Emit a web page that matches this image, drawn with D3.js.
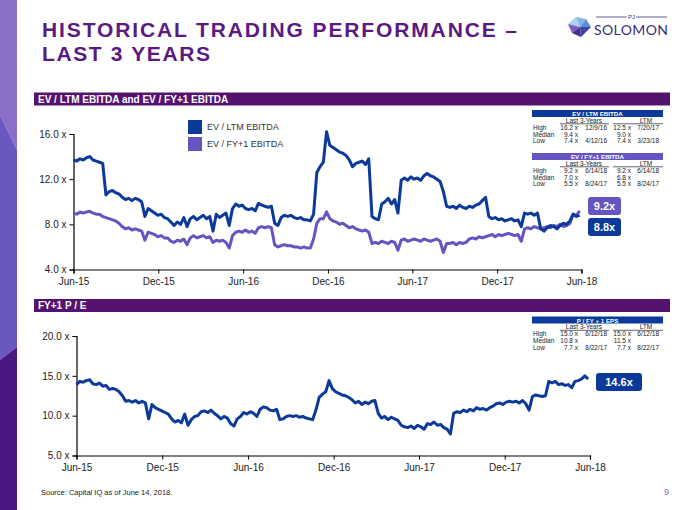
<!DOCTYPE html>
<html><head><meta charset="utf-8">
<script src="https://cdn.jsdelivr.net/npm/d3@7"></script>
<style>
html,body{margin:0;padding:0;background:#fff;}
svg{display:block;font-family:"Liberation Sans",Arial,sans-serif;}
</style></head>
<body>
<script>
// ---------- DATA ----------
const startDate = new Date(2015, 5, 14);
const endDate = new Date(2018, 5, 14);
const tickDates = ["Jun-15","Dec-15","Jun-16","Dec-16","Jun-17","Dec-17","Jun-18"];

// weekly multiples, week 0 = Jun 14, 2015
const evLtmEbitda = [
 13.7,13.6,13.8,13.7,13.9,14.0,13.7,13.6,13.5,13.4,
 10.6,10.9,11.0,10.8,10.7,
 10.4,10.2,10.3,10.1,10.3,10.2,10.0,
 8.7,9.4,9.2,
 9.0,8.8,8.9,8.6,8.5,
 8.2,7.9,8.2,8.0,8.6,
 7.8,
 8.5,8.7,8.4,8.6,8.8,8.5,8.7,
 7.4,
 8.9,8.6,8.8,9.0,
 7.9,
 9.4,
 9.8,9.6,9.7,9.4,9.3,
 9.4,9.2,9.85,
 9.7,9.6,9.5,9.6,
 8.1,7.9,
 8.6,8.8,8.7,8.8,
 8.6,8.5,8.6,8.4,8.4,8.3,
 8.9,12.6,13.1,13.5,16.2,
 15.0,14.8,14.6,14.4,14.3,
 14.1,13.7,13.1,13.4,13.5,13.6,13.3,13.8,
 8.7,8.5,8.4,
 9.8,10.0,10.3,9.8,10.2,
 9.0,
 11.9,12.1,11.9,12.2,12.0,12.1,11.9,12.3,12.5,
 12.3,12.2,12.0,11.8,
 10.9,9.6,
 9.5,9.6,9.4,9.7,9.5,9.4,9.6,9.5,9.7,9.8,
 10.1,10.4,
 8.7,
 8.5,8.6,8.4,8.5,8.3,8.4,8.5,8.3,8.4,
 7.8,9.0,
 8.9,9.0,8.8,9.0,
 7.6,7.4,
 7.7,7.9,7.8,7.6,7.9,
 8.1,8.0,8.3,
 8.9,8.7,8.8
];
const evFy1Ebitda = [
 9.0,8.9,9.1,9.0,9.1,9.15,9.0,8.9,8.9,8.7,
 8.6,8.5,8.4,8.3,8.1,
 7.8,7.6,7.7,7.5,7.6,7.5,7.4,
 6.6,7.3,7.2,
 7.1,6.9,7.0,6.8,6.8,
 6.5,6.4,6.6,6.5,6.7,
 6.2,
 6.8,7.0,6.8,6.9,7.0,6.8,6.9,
 6.4,
 6.6,6.5,6.6,6.4,
 5.9,
 7.0,
 7.3,7.4,7.3,7.5,7.3,7.4,7.2,7.7,
 7.8,7.7,7.8,7.7,
 6.2,6.0,
 6.1,6.2,6.1,6.1,6.0,6.0,5.9,6.0,5.9,5.9,
 6.7,8.1,8.5,8.5,9.1,
 8.5,8.3,8.2,8.0,8.1,
 7.9,7.7,7.8,7.6,7.5,7.4,7.5,7.3,
 6.3,6.4,6.3,6.5,6.4,6.3,6.5,6.4,
 5.7,
 6.6,6.7,6.5,6.6,6.7,6.6,6.5,6.7,6.6,6.5,6.6,6.7,6.5,
 5.5,6.3,
 6.3,6.4,6.2,6.4,6.3,6.4,
 6.7,6.8,6.7,6.9,6.8,6.9,
 7.0,7.1,6.9,7.1,7.0,7.1,7.2,7.1,7.0,7.1,
 6.5,7.6,
 7.7,7.6,7.8,7.7,7.6,7.7,7.8,7.7,7.9,
 7.8,8.0,7.8,7.9,8.1,
 8.9,8.8,9.2
];
const fy1PE = [
 13.9,14.3,14.2,14.4,14.5,
 14.0,13.9,14.1,13.7,13.8,13.3,
 13.4,13.3,13.0,
 12.5,11.8,
 11.9,11.7,11.9,11.6,11.8,
 11.6,9.6,11.4,11.0,
 10.8,10.6,10.4,10.2,
 9.6,9.2,9.4,9.1,
 10.2,8.8,
 9.5,9.9,10.0,
 10.5,10.6,10.4,10.7,10.3,
 10.0,9.6,9.9,9.7,
 9.0,8.7,
 9.6,9.9,
 10.4,10.2,10.5,10.3,9.9,
 10.8,11.1,11.0,10.7,10.6,
 10.8,9.5,
 9.6,9.9,10.0,9.9,10.0,9.8,9.9,9.7,9.6,9.5,
 10.7,12.3,12.7,13.0,14.4,13.4,
 13.0,12.8,12.6,12.5,12.3,
 12.0,11.6,11.8,11.4,
 11.7,11.5,11.8,11.9,
 10.3,9.7,9.9,9.5,9.8,9.6,9.4,
 8.8,8.6,8.5,8.7,8.4,
 8.8,8.6,8.3,9.0,
 8.9,9.2,8.8,8.9,8.5,
 8.3,7.7,
 10.3,10.5,10.4,10.7,10.5,10.8,
 10.6,11.0,10.8,10.9,10.7,11.0,11.2,
 11.5,11.6,11.4,11.7,11.8,
 11.7,11.8,11.6,11.9,11.5,
 10.7,12.4,
 12.6,12.5,12.4,12.5,
 14.3,14.1,14.3,13.9,14.0,
 13.8,13.9,13.5,14.3,
 14.4,14.6,15.0,14.6
];

const topYTicks = [4, 8, 12, 16];
const botYTicks = [5, 10, 15, 20];
const legendLabels = ["EV / LTM EBITDA", "EV / FY+1 EBITDA"];

const tableLtm = {title:"EV / LTM EBITDA", rows:[["High","16.2 x","12/9/16","12.5 x","7/20/17"],["Median","9.4 x","","9.0 x",""],["Low","7.4 x","4/12/16","7.4 x","3/23/18"]]};
const tableFy1 = {title:"EV / FY+1 EBITDA", rows:[["High","9.2 x","6/14/18","9.2 x","6/14/18"],["Median","7.0 x","","6.8 x",""],["Low","5.5 x","8/24/17","5.5 x","8/24/17"]]};
const tablePE = {title:"P / FY + 1 EPS", rows:[["High","15.0 x","6/12/18","15.0 x","6/12/18"],["Median","10.8 x","","11.5 x",""],["Low","7.7 x","8/22/17","7.7 x","8/22/17"]]};

const callTop = [{label:"9.2x", color:"#6654c2"}, {label:"8.8x", color:"#0b3a9a"}];
const callBot = [{label:"14.6x", color:"#0b3a9a"}];

// ---------- STYLE ----------
const C_BLUE = "#0b3a9a", C_PURP = "#6654c2", C_BAR = "#53136f", C_TITLE = "#5a1a82";

const dates = evLtmEbitda.map((d, i) => d3.timeDay.offset(startDate, 7 * i));
const tickVals = tickDates.map((d, i) => d3.timeMonth.offset(startDate, 6 * i));

const svg = d3.select("body").append("svg").attr("width", 680).attr("height", 510);

// left decorative strip
svg.append("polygon").attr("points", "0,0 17,0 17,150 0,115").attr("fill", "#8a6ec8");
svg.append("polygon").attr("points", "0,115 17,150 17,347 0,360").attr("fill", "#6a58c0");
svg.append("polygon").attr("points", "0,360 17,347 17,510 0,510").attr("fill", "#4b1780");

// title
svg.append("text").attr("x", 42).attr("y", 37).attr("fill", C_TITLE)
  .attr("font-size", 21).attr("font-weight", "bold")
  .attr("textLength", 475).attr("lengthAdjust", "spacing")
  .text("HISTORICAL TRADING PERFORMANCE \u2013");
svg.append("text").attr("x", 42).attr("y", 61).attr("fill", C_TITLE)
  .attr("font-size", 21).attr("font-weight", "bold")
  .attr("textLength", 168).attr("lengthAdjust", "spacing")
  .text("LAST 3 YEARS");

// logo
const gem = [
  ["568,24 576,17 580,27", "#a9d2ef"],
  ["576,17 586,19 580,27", "#84b6e3"],
  ["586,19 591,27 580,27", "#5d8ed2"],
  ["568,24 580,27 572,33", "#7a5cc0"],
  ["572,33 580,27 581,37", "#4a2a8c"],
  ["580,27 591,27 581,37", "#3b44a2"]
];
gem.forEach(g => svg.append("polygon").attr("points", g[0]).attr("fill", g[1]));
svg.append("line").attr("x1", 596).attr("x2", 627).attr("y1", 17).attr("y2", 17).attr("stroke", "#3b2d7a").attr("stroke-width", 0.8);
svg.append("line").attr("x1", 636).attr("x2", 667).attr("y1", 17).attr("y2", 17).attr("stroke", "#3b2d7a").attr("stroke-width", 0.8);
svg.append("text").attr("x", 631.5).attr("y", 19).attr("text-anchor", "middle").attr("font-size", 6).attr("fill", "#3b2d7a").text("PJ");
svg.append("text").attr("x", 594).attr("y", 35).attr("font-size", 14).attr("fill", "#3b2d7a")
  .attr("font-family", "Lato, 'Open Sans', sans-serif")
  .attr("textLength", 74).attr("lengthAdjust", "spacing").text("SOLOMON");

// section bars
function sectionBar(y, label) {
  svg.append("rect").attr("x", 34).attr("y", y).attr("width", 636).attr("height", 13).attr("fill", C_BAR);
  svg.append("text").attr("x", 38).attr("y", y + 10).attr("fill", "#fff").attr("font-size", 10).attr("font-weight", "bold").text(label);
}
sectionBar(92.5, "EV / LTM EBITDA and EV / FY+1 EBITDA");
sectionBar(299, "FY+1 P / E");

// chart helper
function drawAxes(x, y, yTicks, x0, yBase) {
  const g = svg.append("g");
  const ax = d3.axisBottom(x).tickValues(tickVals).tickFormat((d, i) => tickDates[i]).tickSize(4).tickPadding(4);
  g.append("g").attr("transform", `translate(0,${yBase})`).call(ax);
  const ay = d3.axisLeft(y).tickValues(yTicks).tickFormat(d => d3.format(".1f")(d) + " x").tickSize(4).tickPadding(3);
  g.append("g").attr("transform", `translate(${x0},0)`).call(ay);
  g.selectAll(".domain").attr("stroke", "#000").attr("stroke-width", 1.2);
  g.selectAll(".tick line").attr("stroke", "#000");
  g.selectAll(".tick text").attr("font-size", 10).attr("fill", "#222").attr("font-family", "'Liberation Sans',Arial,sans-serif");
}

// ---- top chart ----
const xT = d3.scaleTime().domain([startDate, endDate]).range([73.5, 581.5]);
const yT = d3.scaleLinear().domain([4, 16]).range([269.5, 134]);
drawAxes(xT, yT, topYTicks, 73.5, 269.5);

const lineT = (arr) => d3.line().x((d, i) => xT(dates[i])).y(d => yT(d))(arr);
svg.append("path").attr("d", lineT(evFy1Ebitda)).attr("fill", "none").attr("stroke", C_PURP).attr("stroke-width", 3).attr("stroke-linejoin", "round");
svg.append("path").attr("d", lineT(evLtmEbitda)).attr("fill", "none").attr("stroke", C_BLUE).attr("stroke-width", 3).attr("stroke-linejoin", "round");

// legend
[C_BLUE, C_PURP].forEach((c, i) => {
  svg.append("rect").attr("x", 188).attr("y", 120 + i * 17).attr("width", 14).attr("height", 14).attr("fill", c);
  svg.append("text").attr("x", 207).attr("y", 130 + i * 17).attr("font-size", 9).attr("fill", "#333").text(legendLabels[i]);
});

// tables
function drawTable(t, top, color) {
  const g = svg.append("g").attr("font-size", 6.5).attr("fill", "#222");
  g.append("rect").attr("x", 532).attr("y", top).attr("width", 131).attr("height", 7).attr("fill", color);
  g.append("text").attr("x", 597.5).attr("y", top + 6).attr("text-anchor", "middle").attr("fill", "#fff").attr("font-weight", "bold").attr("font-size", 6.2).text(t.title);
  g.append("text").attr("x", 584).attr("y", top + 12.5).attr("text-anchor", "middle").text("Last 3-Years");
  g.append("text").attr("x", 646).attr("y", top + 12.5).attr("text-anchor", "middle").text("LTM");
  g.append("line").attr("x1", 560).attr("x2", 609).attr("y1", top + 13.8).attr("y2", top + 13.8).attr("stroke", "#222").attr("stroke-width", 0.7);
  g.append("line").attr("x1", 613).attr("x2", 663).attr("y1", top + 13.8).attr("y2", top + 13.8).attr("stroke", "#222").attr("stroke-width", 0.7);
  const cols = [[533, "start"], [578, "end"], [607, "end"], [631, "end"], [659, "end"]];
  t.rows.forEach((r, ri) => {
    r.forEach((v, ci) => {
      g.append("text").attr("x", cols[ci][0]).attr("y", top + 19.8 + ri * 6.7).attr("text-anchor", cols[ci][1]).text(v);
    });
  });
}
drawTable(tableLtm, 110, C_BLUE);
drawTable(tableFy1, 153, C_PURP);

// callouts
function callout(x, y, w, h, c) {
  svg.append("rect").attr("x", x).attr("y", y).attr("width", w).attr("height", h).attr("rx", 3).attr("fill", c.color);
  svg.append("text").attr("x", x + w / 2).attr("y", y + h / 2 + 4).attr("text-anchor", "middle").attr("fill", "#fff").attr("font-size", 11).attr("font-weight", "bold").text(c.label);
}
callout(588, 197, 33, 18, callTop[0]);
callout(588, 218, 33, 18, callTop[1]);

// ---- bottom chart ----
const xB = d3.scaleTime().domain([startDate, endDate]).range([76.5, 590]);
const yB = d3.scaleLinear().domain([5, 20]).range([455.5, 336]);
drawAxes(xB, yB, botYTicks, 76.5, 455.5);
const lineB = d3.line().x((d, i) => xB(dates[i])).y(d => yB(d));
svg.append("path").attr("d", lineB(fy1PE)).attr("fill", "none").attr("stroke", C_BLUE).attr("stroke-width", 3).attr("stroke-linejoin", "round");
drawTable(tablePE, 316.5, C_BLUE);
callout(596, 373, 46, 18, callBot[0]);

// footer
svg.append("text").attr("x", 41).attr("y", 495).attr("font-size", 7.5).attr("fill", "#222").text("Source: Capital IQ as of June 14, 2018.");
svg.append("text").attr("x", 664).attr("y", 495).attr("font-size", 9).attr("fill", "#7a6cc4").text("9");
</script>
</body></html>
